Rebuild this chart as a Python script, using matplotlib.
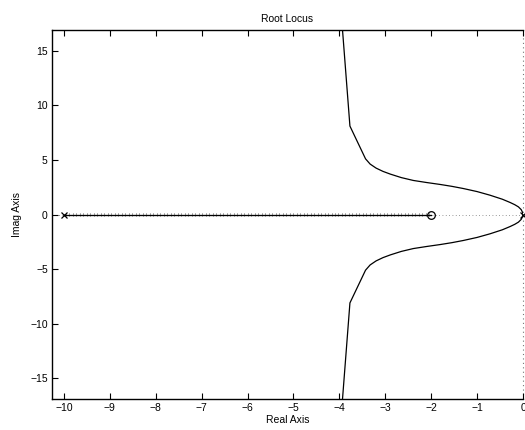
import matplotlib
matplotlib.use('Agg')
import matplotlib.pyplot as plt
import matplotlib.patheffects as pe

# open-loop poles and zeros
pole_re = [-10.0, 0.0]
pole_im = [0.0, 0.0]
zero_re = [-2.0]
zero_im = [0.0]

# complex branch (upper half)
branch_re = [0.0, -0.01, -0.04, -0.10, -0.18, -0.28, -0.45, -0.72, -1.00,
             -1.30, -1.55, -1.80, -2.10, -2.39, -2.65, -2.89, -3.05, -3.20,
             -3.33, -3.43, -3.77, -3.97]
branch_im = [0.0, 0.20, 0.45, 0.70, 0.90, 1.10, 1.40, 1.77, 2.10,
             2.38, 2.58, 2.75, 2.93, 3.12, 3.38, 3.70, 3.95, 4.25,
             4.62, 5.10, 8.10, 19.0]

# real-axis branch between pole and zero
real_re = [-10.0, -2.0]
real_im = [0.0, 0.0]

xticks = [-10, -9, -8, -7, -6, -5, -4, -3, -2, -1, 0]
yticks = [-15, -10, -5, 0, 5, 10, 15]

plt.rcParams['font.family'] = ['Liberation Sans', 'DejaVu Sans']

fig = plt.figure(figsize=(5.25, 4.3), dpi=100)
ax = fig.add_axes([0.099, 0.0721, 0.8972, 0.8581])

ax.axhline(0, color='#777777', ls=(0, (1, 3)), lw=0.6, zorder=1)
ax.axvline(0, color='#777777', ls=(0, (1, 3)), lw=0.8, zorder=1,
           clip_on=False)

ax.plot(branch_re, branch_im, color='k', lw=0.9, zorder=2)
ax.plot(branch_re, [-v for v in branch_im], color='k', lw=0.9, zorder=2)

# dense gain samples on the real-axis branch show up as fine hatching
ax.plot(real_re, real_im, color='k', lw=0.8, zorder=2,
        path_effects=[pe.withTickedStroke(angle=90, spacing=2.5, length=0.35,
                                          linewidth=0.4, foreground='#555555'),
                      pe.withTickedStroke(angle=-90, spacing=2.5, length=0.35,
                                          linewidth=0.4, foreground='#555555'),
                      pe.Normal()])

ax.plot(pole_re, pole_im, 'x', color='k', ms=4, mew=0.9, zorder=3,
        clip_on=False)
ax.plot(zero_re, zero_im, 'o', mfc='none', mec='k', ms=5.5, mew=0.9,
        zorder=3)

ax.set_xlim(-10.26, 0)
ax.set_ylim(-16.9, 16.9)
ax.set_xticks(xticks)
ax.set_yticks(yticks)
ax.tick_params(direction='in', length=4, width=0.8, labelsize=7.5,
               top=True, right=False, pad=3)
for s in ax.spines.values():
    s.set_linewidth(1.0)
ax.spines['right'].set_visible(False)

ax.set_title('Root Locus', fontsize=7.5, pad=6)
ax.set_xlabel('Real Axis', fontsize=7.5, labelpad=1)
ax.set_ylabel('Imag Axis', fontsize=7.5, labelpad=6)

fig.savefig('out.png', dpi=100)
